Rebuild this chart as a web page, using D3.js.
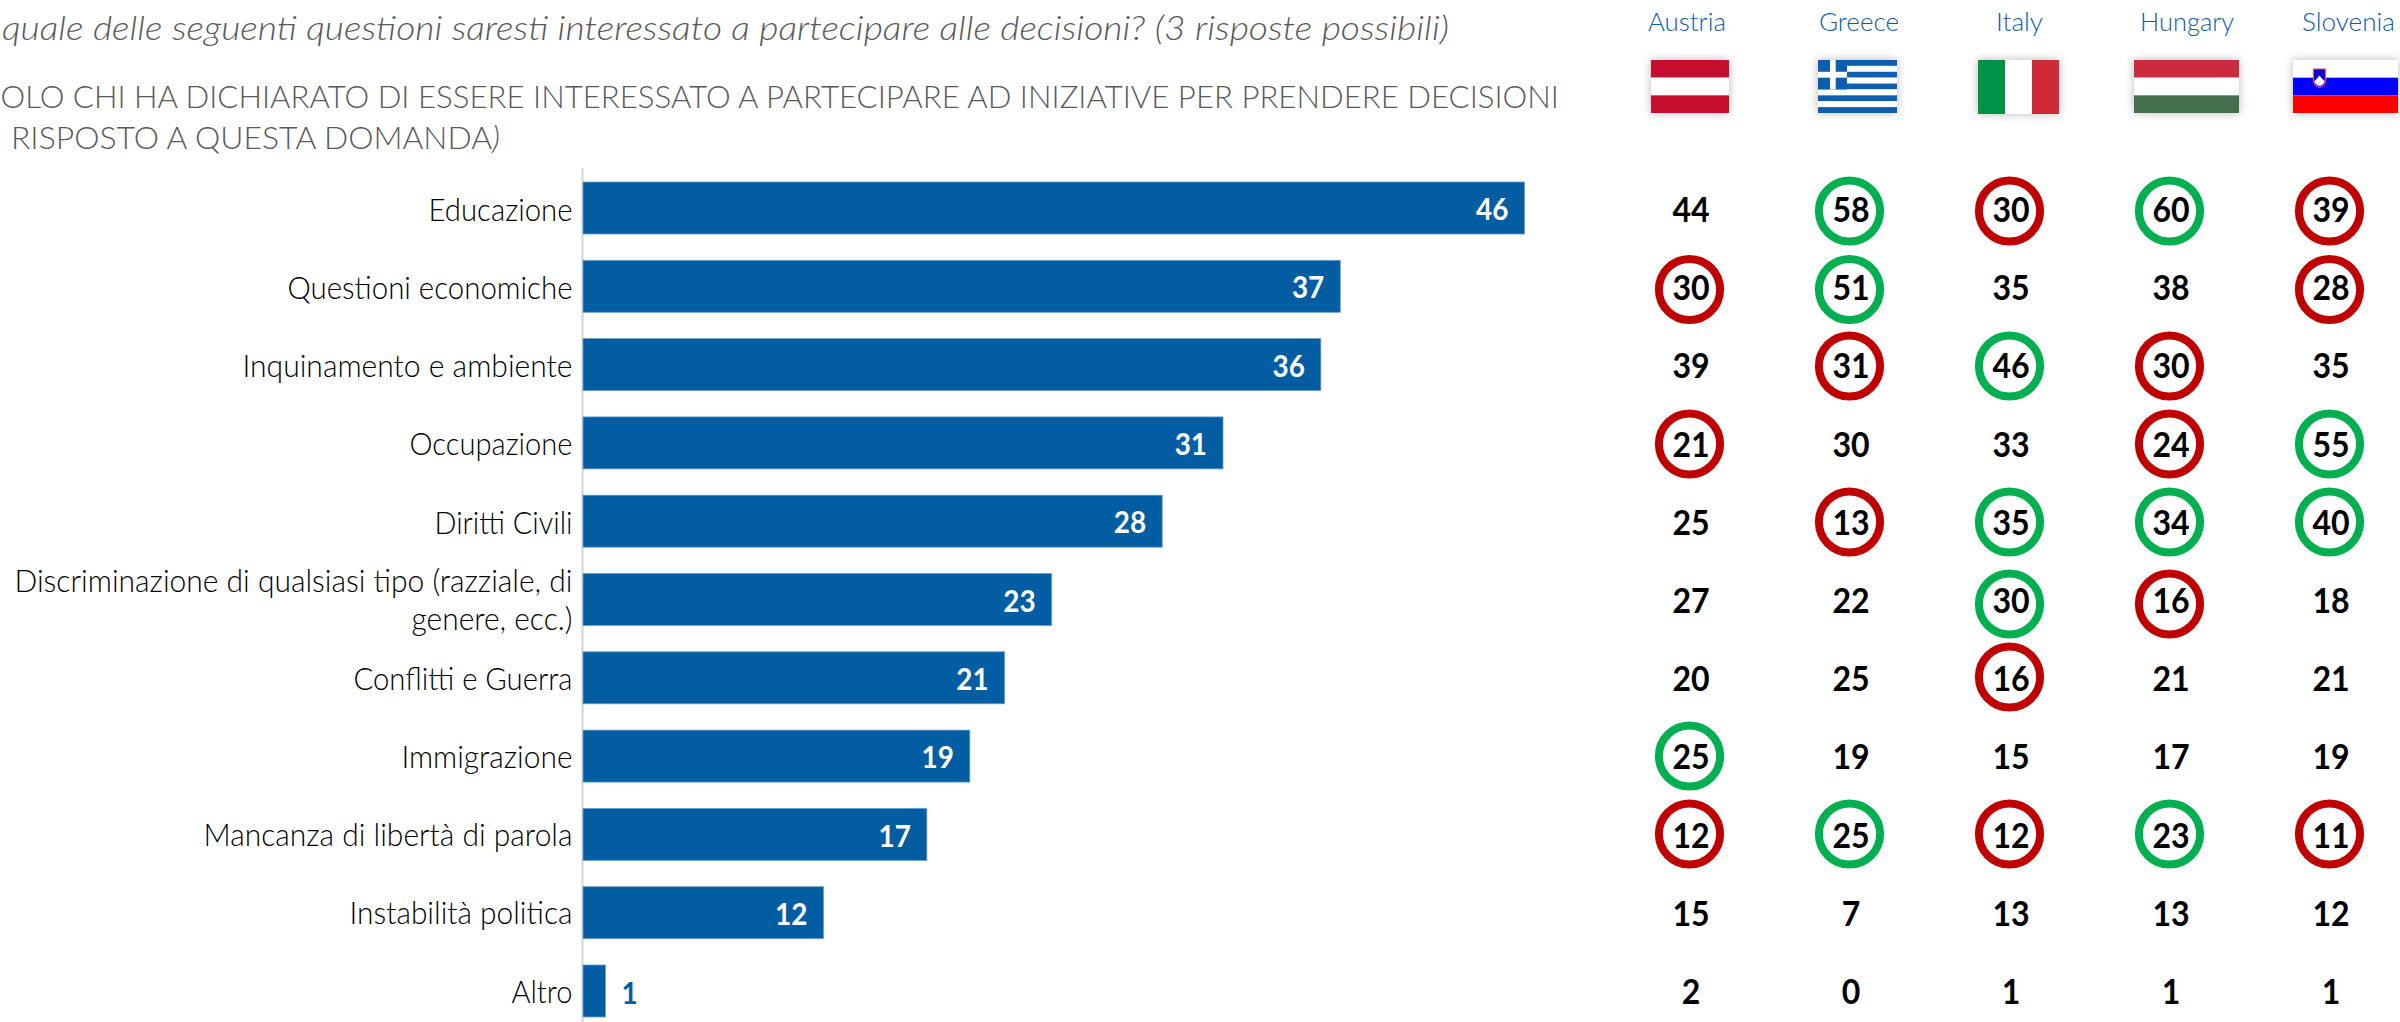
<!DOCTYPE html>
<html>
<head>
<meta charset="utf-8">
<script src="https://cdn.jsdelivr.net/npm/d3@7/dist/d3.min.js"></script>
<style>
html,body{margin:0;padding:0;background:#fff;overflow:hidden}
svg{display:block;font-family:Lato,"Open Sans",sans-serif}
</style>
</head>
<body>
<div id="chart"></div>
<script>
// ---------- data ----------
const categories = ["Educazione","Questioni economiche","Inquinamento e ambiente","Occupazione","Diritti Civili","Discriminazione di qualsiasi tipo (razziale, di genere, ecc.)","Conflitti e Guerra","Immigrazione","Mancanza di libertà di parola","Instabilità politica","Altro"];
const overall  = [46,37,36.05,31.27,28.3,22.9,20.6,18.9,16.8,11.75,1.1];
const countries = ["Austria","Greece","Italy","Hungary","Slovenia"];
const austria  = [44,30,39,21,25,27,20,25,12,15,2];
const greece   = [58,51,31,30,13,22,25,19,25,7,0];
const italy    = [30,35,46,33,35,30,16,15,12,13,1];
const hungary  = [60,38,30,24,34,16,21,17,23,13,1];
const slovenia = [39,28,35,55,40,18,21,19,11,12,1];
// g = above average (green ring), r = below average (red ring), - = none
const austriaMarks  = ["-","r","-","r","-","-","-","g","r","-","-"];
const greeceMarks   = ["g","g","r","-","r","-","-","-","g","-","-"];
const italyMarks    = ["r","-","g","-","g","g","r","-","r","-","-"];
const hungaryMarks  = ["g","-","r","r","g","r","-","-","g","-","-"];
const sloveniaMarks = ["r","r","-","g","g","-","-","-","r","-","-"];
const titleLine1 = "quale delle seguenti questioni saresti interessato a partecipare alle decisioni? (3 risposte possibili)";
const titleLine2 = "OLO CHI HA DICHIARATO DI ESSERE INTERESSATO A PARTECIPARE AD INIZIATIVE PER PRENDERE DECISIONI";
const titleLine3 = "RISPOSTO A QUESTA DOMANDA";

// ---------- layout ----------
const W = 2400, H = 1022;
const BLUE = "#025DA3", GREEN = "#00B050", RED = "#C00000";
const svg = d3.select("#chart").append("svg").attr("width",W).attr("height",H).attr("viewBox",`0 0 ${W} ${H}`);
const defs = svg.append("defs");
const shadow = defs.append("filter").attr("id","flagShadow").attr("x","-20%").attr("y","-30%").attr("width","140%").attr("height","160%");
shadow.append("feDropShadow").attr("dx",0).attr("dy",0).attr("stdDeviation",5).attr("flood-color","#000").attr("flood-opacity",0.28);

// ---------- titles ----------
const fit = (sel, len) => sel.attr("textLength",len).attr("lengthAdjust","spacingAndGlyphs");
// squeeze a text horizontally by k, so Lato takes on the narrower Calibri proportions
const squeeze = k => function(){
  const el = d3.select(this);
  el.attr("textLength",this.getComputedTextLength()*k).attr("lengthAdjust","spacingAndGlyphs");
};
svg.append("text").attr("x",2).attr("y",40).attr("font-size",33).attr("font-style","italic").attr("font-weight",300)
  .attr("fill","#595959").text(titleLine1).call(fit,1447);
svg.append("text").attr("x",0.5).attr("y",108).attr("font-size",32).attr("font-weight",300)
  .attr("fill","#595959").text(titleLine2).call(fit,1558.5);
const t3 = svg.append("text").attr("x",11).attr("y",148.5).attr("font-size",32).attr("font-weight",300)
  .attr("fill","#595959").call(fit,489);
t3.append("tspan").text(titleLine3);
t3.append("tspan").attr("font-style","italic").text(")");

// ---------- bars ----------
const x = d3.scaleLinear().domain([0,46]).range([583,1524.5]);
const yBar = d3.scaleBand().domain(categories).range([168.85,1030.15]).paddingInner(0.336).paddingOuter(0.168);
const yLabel = d3.scalePoint().domain(categories).range([220.5,1002]);
const yBarLabel = d3.scalePoint().domain(categories).range([220,1003.5]);

svg.append("line").attr("x1",582.5).attr("x2",582.5).attr("y1",168).attr("y2",H)
  .attr("stroke","#d4d4d4").attr("stroke-width",2);

svg.append("g").selectAll("rect").data(categories).join("rect")
  .attr("x",x(0)).attr("y",d=>yBar(d))
  .attr("width",(d,i)=>x(overall[i])-x(0)).attr("height",yBar.bandwidth())
  .attr("fill",BLUE).attr("stroke","#6b9fcc").attr("stroke-width",0.8);

const labelWidth = [144,285,330,163,138,0,219,171,369,223,61];
const axis = svg.append("g").attr("transform","translate(572.5,0)")
  .call(d3.axisLeft(yLabel).tickSize(0).tickPadding(0));
axis.select(".domain").remove();
axis.selectAll("text")
  .attr("font-family","Lato").attr("font-size",31).attr("font-weight",300).attr("fill","#000")
  .attr("x",0).attr("dy",0).attr("text-anchor","end")
  .each(function(d,i){
    const el=d3.select(this);
    if(labelWidth[i]===0){
      el.text(null);
      el.append("tspan").attr("x",0).attr("dy",-20).attr("textLength",558).attr("lengthAdjust","spacingAndGlyphs").text("Discriminazione di qualsiasi tipo (razziale, di");
      el.append("tspan").attr("x",0).attr("dy",38).attr("textLength",161).attr("lengthAdjust","spacingAndGlyphs").text("genere, ecc.)");
    } else {
      el.attr("textLength",labelWidth[i]).attr("lengthAdjust","spacingAndGlyphs");
    }
  });

const barLabel = d3.format(".0f");
svg.append("g").selectAll("text").data(categories).join("text")
  .attr("x",(d,i)=> overall[i]<3 ? x(overall[i])+16 : x(overall[i])-16)
  .attr("y",d=>yBarLabel(d))
  .attr("text-anchor",(d,i)=> overall[i]<3 ? "start":"end")
  .attr("font-size",30).attr("font-weight",700)
  .attr("fill",(d,i)=> overall[i]<3 ? BLUE : "#fff")
  .text((d,i)=>barLabel(overall[i]))
  .each(squeeze(0.93));

// ---------- country table ----------
const xCol = d3.scalePoint().domain(countries).range([1689.5,2329.5]);
const yRing = d3.scalePoint().domain(categories).range([210,990]);
const yText = d3.scalePoint().domain(categories).range([222,1004]);
const table = [
  {name:"Austria",values:austria,marks:austriaMarks},
  {name:"Greece",values:greece,marks:greeceMarks},
  {name:"Italy",values:italy,marks:italyMarks},
  {name:"Hungary",values:hungary,marks:hungaryMarks},
  {name:"Slovenia",values:slovenia,marks:sloveniaMarks}
];
const headerLeft = {Austria:1648,Greece:1819,Italy:1996,Hungary:2140,Slovenia:2302};
const headerWidth = {Austria:78,Greece:80,Italy:47,Hungary:94,Slovenia:93};
const ringNudge = {0:1,1:1.5,5:4,6:-1};

svg.append("g").selectAll("text").data(countries).join("text")
  .attr("x",d=>headerLeft[d]).attr("y",31)
  .attr("font-size",25.5).attr("font-weight",300).attr("fill","#0B5CA5")
  .attr("textLength",d=>headerWidth[d]).attr("lengthAdjust","spacingAndGlyphs")
  .text(d=>d);

table.forEach(col=>{
  const g = svg.append("g");
  const cells = col.values.map((v,i)=>({v,mark:col.marks[i],cat:categories[i],i}));
  g.selectAll("circle").data(cells.filter(c=>c.mark!=="-")).join("circle")
    .attr("cx",xCol(col.name))
    .attr("cy",c=>yRing(c.cat)+(ringNudge[c.i]||0))
    .attr("r",30.6)
    .attr("fill","#fff")
    .attr("stroke",c=>c.mark==="g"?GREEN:RED)
    .attr("stroke-width",8);
  g.selectAll("text").data(cells).join("text")
    .attr("x",xCol(col.name)+1.5)
    .attr("y",c=>yText(c.cat))
    .attr("text-anchor","middle")
    .attr("font-size",34.5).attr("font-weight",700).attr("fill","#000")
    .text(c=>c.v)
    .each(squeeze(0.93));
});

// ---------- flags ----------
function flag(px,py){ return svg.append("g").attr("transform",`translate(${px},${py})`); }
function base(g,w,h){ g.append("rect").attr("width",w).attr("height",h).attr("fill","#fff").attr("filter","url(#flagShadow)"); }
function hStripes(px,py,w,h,colors){
  const g = flag(px,py); base(g,w,h);
  const s = d3.scaleBand().domain(d3.range(colors.length)).range([0,h]);
  g.selectAll("rect.s").data(colors).join("rect").attr("class","s")
    .attr("y",(d,i)=>s(i)).attr("width",w).attr("height",s.bandwidth()).attr("fill",d=>d);
  return g;
}
hStripes(1651,60,78,53,["#C60F2E","#FFFFFF","#C60F2E"]);
const gr = hStripes(1818,60,79,53,["#0D5EAF","#FFFFFF","#0D5EAF","#FFFFFF","#0D5EAF","#FFFFFF","#0D5EAF","#FFFFFF","#0D5EAF"]);
const cs = 53/9;
gr.append("rect").attr("width",29).attr("height",cs*5).attr("fill","#0D5EAF");
gr.append("rect").attr("x",12).attr("width",5.7).attr("height",cs*5).attr("fill","#fff");
gr.append("rect").attr("y",cs*2).attr("width",29).attr("height",cs).attr("fill","#fff");
const it = flag(1978,60); base(it,81,54);
it.append("rect").attr("width",27).attr("height",54).attr("fill","#009246");
it.append("rect").attr("x",54).attr("width",27).attr("height",54).attr("fill","#CE2B37");
hStripes(2134,60,105,53,["#CD2A3E","#FFFFFF","#436F4D"]);
const sl = hStripes(2293,60,105,53,["#FFFFFF","#0000FF","#FF0000"]);
const coat = sl.append("g").attr("transform","translate(20,9)");
coat.append("path").attr("d","M0.5 0H12.5V11Q12.5 16 6.5 18.5Q0.5 16 0.5 11Z").attr("fill","#0000D8").attr("stroke","#F0506A").attr("stroke-width",1.2);
coat.append("path").attr("d","M1.5 12L4 9.5L6.5 6.5L9 9.5L11.5 12Q11 15.5 6.5 17Q2 15.5 1.5 12Z").attr("fill","#fff");
</script>
</body>
</html>
